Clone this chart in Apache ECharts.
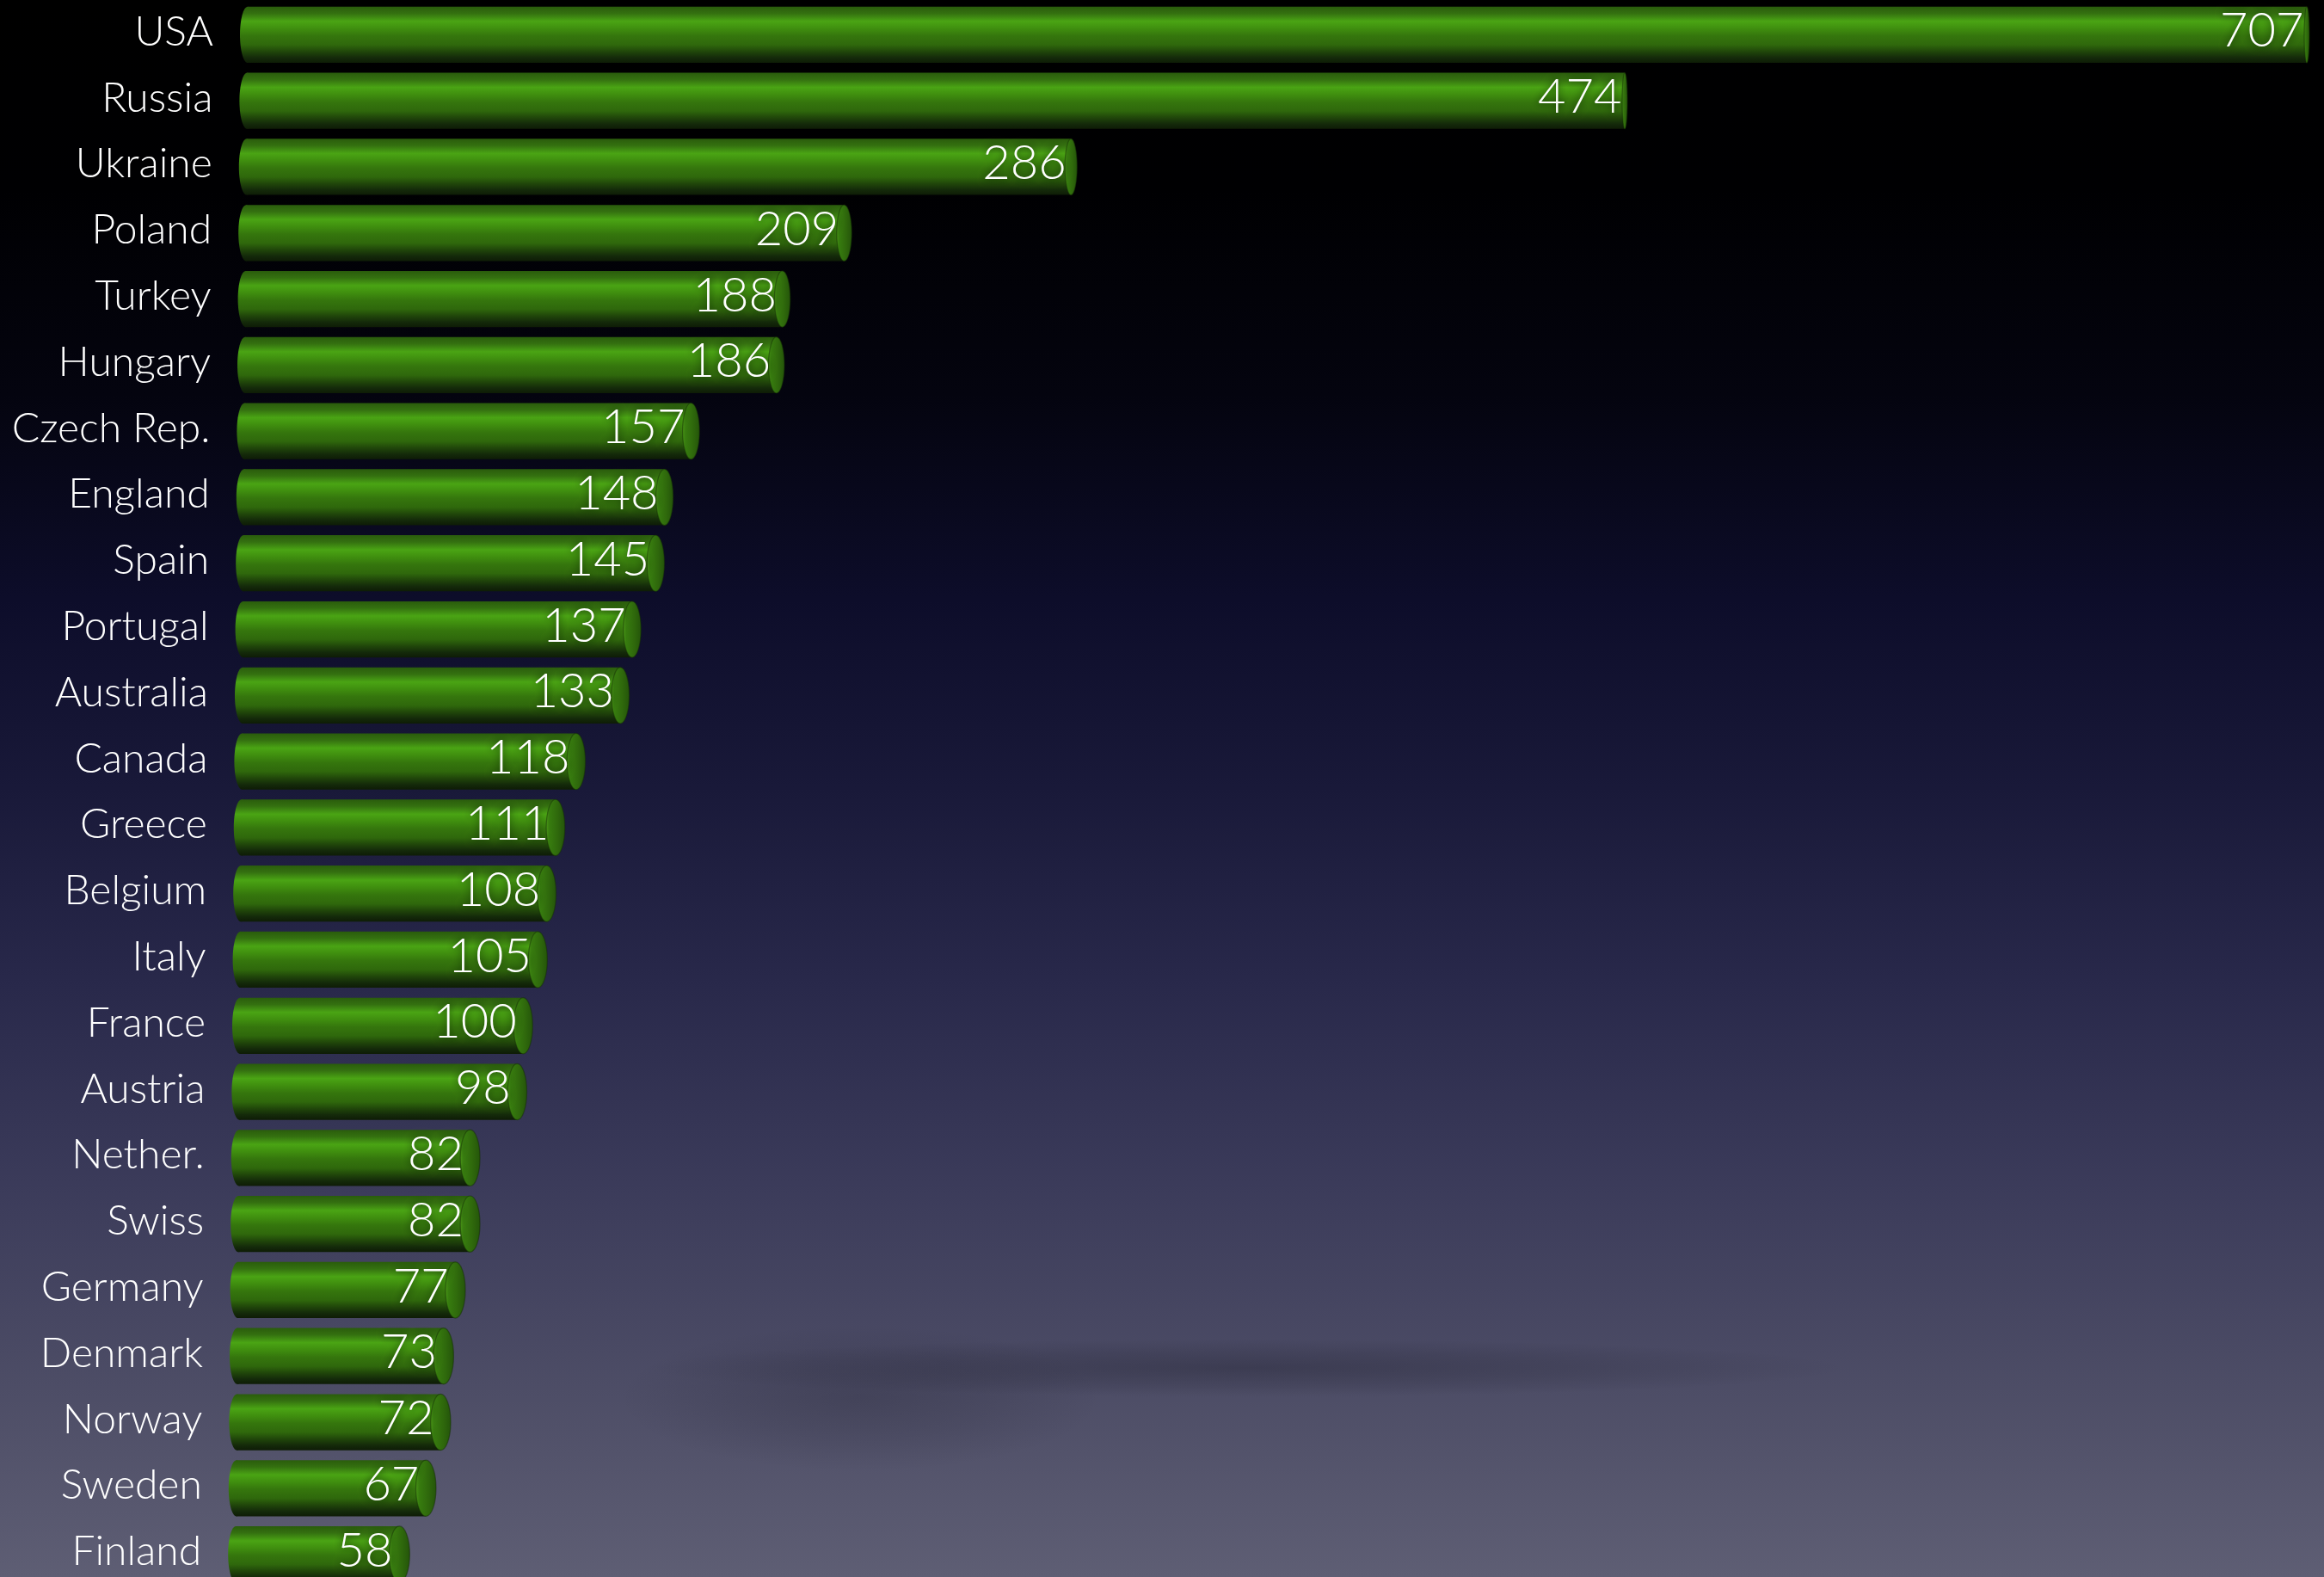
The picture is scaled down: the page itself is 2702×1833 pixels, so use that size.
<!DOCTYPE html>
<html>
<head>
<meta charset="utf-8">
<title>Countries</title>
<script src="https://cdn.jsdelivr.net/npm/echarts@6/dist/echarts.min.js"></script>
<style>
  html, body { margin: 0; padding: 0; background: #000; overflow: hidden; }
  #chart { width: 2702px; height: 1850px; }
</style>
</head>
<body>
<div id="chart"></div>
<script>
// Countries, top to bottom
const countries = [
  'USA', 'Russia', 'Ukraine', 'Poland', 'Turkey', 'Hungary', 'Czech Rep.',
  'England', 'Spain', 'Portugal', 'Australia', 'Canada', 'Greece', 'Belgium',
  'Italy', 'France', 'Austria', 'Nether.', 'Swiss', 'Germany', 'Denmark',
  'Norway', 'Sweden', 'Finland'
];
const counts = [
  707, 474, 286, 209, 188, 186, 157,
  148, 145, 137, 133, 118, 111, 108,
  105, 100, 98, 82, 82, 77, 73,
  72, 67, 58
];

// the canvas runs a little past the bottom of the window so the last tube is cut
const W = 2702, H = 1850;
const chart = echarts.init(document.getElementById('chart'), null, { renderer: 'canvas', width: W, height: H });
const LG = echarts.graphic.LinearGradient;
const RG = echarts.graphic.RadialGradient;
const FONT = 'Lato, "Helvetica Neue", "Liberation Sans", sans-serif';

// cylinder shading, top to bottom
function tubeFill() {
  return new LG(0, 0, 0, 1, [
    { offset: 0.00, color: '#2a5c0c' },
    { offset: 0.12, color: '#347010' },
    { offset: 0.26, color: '#4aa414' },
    { offset: 0.38, color: '#40900f' },
    { offset: 0.52, color: '#35760d' },
    { offset: 0.68, color: '#2f680c' },
    { offset: 0.80, color: '#20460a' },
    { offset: 0.91, color: '#142a0a' },
    { offset: 1.00, color: '#0e1c06' }
  ]);
}
// visible end face of the tube
function capFill() {
  return new LG(0, 0, 1, 0, [
    { offset: 0.0, color: '#4c9a18' },
    { offset: 0.18, color: '#377c0f' },
    { offset: 0.6, color: '#2f690c' },
    { offset: 1.0, color: '#24540a' }
  ]);
}

function renderTube(params, api) {
  const idx = params.dataIndex;
  const v = api.value(0);
  const cat = api.value(1);
  const base = api.coord([0, cat]);
  const end = api.coord([v, cat]);
  const band = api.size([0, 1])[1];
  const h = band * 0.85;
  const cy = end[1];
  const y = cy - h / 2;
  const x0 = base[0] - idx * 0.6;
  const xEnd = end[0];
  const capRx = Math.max(3, Math.min(12, 3 + (1900 - xEnd) * 0.0063));
  const leftRx = 9;
  const xc = xEnd - capRx;

  return {
    type: 'group',
    children: [
      {
        type: 'rect',
        shape: { x: x0 + leftRx, y: y, width: xc - x0 - leftRx, height: h },
        style: { fill: tubeFill() }
      },
      {
        type: 'ellipse',
        shape: { cx: x0 + leftRx, cy: cy, rx: leftRx, ry: h / 2 },
        style: { fill: tubeFill() }
      },
      {
        type: 'ellipse',
        shape: { cx: xc, cy: cy, rx: capRx, ry: h / 2 },
        style: { fill: capFill(), stroke: 'rgba(20,45,6,0.5)', lineWidth: 1.2 }
      },
      {
        type: 'text',
        style: {
          text: String(v),
          x: xEnd - 1.5 * capRx - 2,
          y: cy - 4,
          align: 'right',
          verticalAlign: 'middle',
          fill: '#ffffff',
          fontSize: 56,
          fontFamily: FONT,
          fontWeight: 300,
          textShadowColor: 'rgba(10,35,0,0.9)',
          textShadowBlur: 10
        }
      },
      {
        type: 'text',
        style: {
          text: countries[idx],
          x: x0 - 31,
          y: cy - 3,
          align: 'right',
          verticalAlign: 'middle',
          fill: '#ffffff',
          fontSize: 48,
          fontFamily: FONT,
          fontWeight: 300
        }
      }
    ]
  };
}

// soft patch of shadow on the floor, drawn as a stretched circle
function floorShade(cx, cy, rx, ry, alpha) {
  return {
    type: 'circle', z: -19, silent: true,
    x: cx, y: cy, scaleX: rx / 100, scaleY: ry / 100,
    shape: { cx: 0, cy: 0, r: 100 },
    style: {
      fill: new RG(0.5, 0.5, 0.5, [
        { offset: 0, color: 'rgba(28,28,42,' + alpha + ')' },
        { offset: 0.55, color: 'rgba(28,28,42,' + (alpha * 0.5) + ')' },
        { offset: 1, color: 'rgba(28,28,42,0)' }
      ])
    }
  };
}

const option = {
  backgroundColor: 'transparent',
  animation: false,
  graphic: [
    {
      type: 'rect', z: -20, silent: true,
      shape: { x: 0, y: 0, width: W, height: 1833 },
      style: {
        fill: new LG(0, 0, 0, 1, [
          { offset: 0.00, color: '#000000' },
          { offset: 0.12, color: '#000002' },
          { offset: 0.25, color: '#04040f' },
          { offset: 0.38, color: '#0d0d2a' },
          { offset: 0.50, color: '#191939' },
          { offset: 0.62, color: '#28284a' },
          { offset: 0.75, color: '#3b3b5a' },
          { offset: 0.88, color: '#4d4d66' },
          { offset: 1.00, color: '#5e5e74' }
        ])
      }
    },
    {
      type: 'rect', z: -20, silent: true,
      shape: { x: 0, y: 1833, width: W, height: 20 },
      style: { fill: '#5e5e74' }
    },
    floorShade(1450, 1590, 700, 34, 0.32),
    floorShade(1000, 1625, 280, 85, 0.22)
  ],
  grid: { left: 279, right: 17, top: 2, height: 1843, containLabel: false },
  xAxis: {
    type: 'value', min: 0, max: 707, show: false
  },
  yAxis: {
    type: 'category',
    inverse: true,
    data: countries,
    axisLine: { show: false },
    axisTick: { show: false },
    splitLine: { show: false },
    axisLabel: { show: false }
  },
  series: [{
    type: 'custom',
    renderItem: renderTube,
    encode: { x: 0, y: 1 },
    data: counts.map((v, i) => [v, i]),
    clip: false,
    z: 2
  }]
};

chart.setOption(option);
</script>
</body>
</html>
